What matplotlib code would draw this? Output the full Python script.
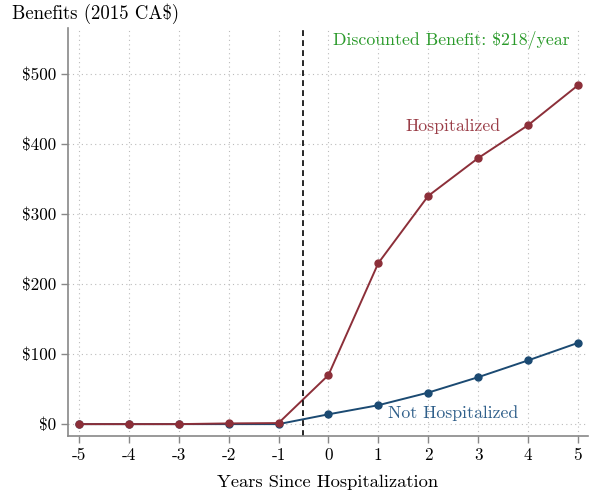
import numpy as np
import matplotlib
matplotlib.use("Agg")
import matplotlib.pyplot as plt

plt.rcParams['font.family'] = ['cmr10', 'DejaVu Serif']
plt.rcParams['axes.unicode_minus'] = False
plt.rcParams['mathtext.fontset'] = 'cm'

years = [-5, -4, -3, -2, -1, 0, 1, 2, 3, 4, 5]
hospitalized = [0, 0, 0, 1, 1.5, 70, 230, 326, 380, 427, 484]
not_hospitalized = [0, 0, 0, 0, 0, 14, 27, 45, 67, 91, 116]
yticks = [0, 100, 200, 300, 400, 500]
ytick_labels = [f"\\${v}" for v in yticks]

red = "#8c2f39"
blue = "#1b4a72"
green = "#2a9a2a"
gray = "#888888"

fig = plt.figure(figsize=(5.89, 4.97), dpi=100)
ax = fig.add_axes([0.1154, 0.1227, 0.8826, 0.821])

ax.plot(years, not_hospitalized, color=blue, lw=1.4, marker='o', markersize=5)
ax.plot(years, hospitalized, color=red, lw=1.4, marker='o', markersize=5)
ax.axvline(-0.5, color="black", ls=(0, (3.5, 2.5)), lw=1.2)

ax.set_xlim(-5.22, 5.2)
ax.set_ylim(-17, 566)
ax.set_xticks(years)
ax.set_xticklabels([str(y) for y in years])
ax.set_yticks(yticks)
ax.set_yticklabels(ytick_labels)
ax.tick_params(labelsize=12.3, color=gray, length=5, width=1)
ax.grid(True, linestyle=(0, (1, 3)), color="#bbbbbb", lw=0.8)
for s in ["top", "right"]:
    ax.spines[s].set_visible(False)
for s in ["left", "bottom"]:
    ax.spines[s].set_color(gray)
    ax.spines[s].set_linewidth(1.2)

ax.set_xlabel("Years Since Hospitalization", fontsize=13.3, labelpad=8)
fig.text(0.02, 0.973, "Benefits (2015 CA\\$)", fontsize=13.5, ha="left", va="center")

ax.text(2.47, 549, "Discounted Benefit: \\$218/year", color=green, fontsize=12.8, ha="center", va="center")
ax.text(2.5, 426, "Hospitalized", color="#9a3d47", fontsize=12.8, ha="center", va="center")
ax.text(2.5, 16, "Not Hospitalized", color="#2f5f8a", fontsize=12.8, ha="center", va="center")

fig.savefig("out.png", dpi=100)
